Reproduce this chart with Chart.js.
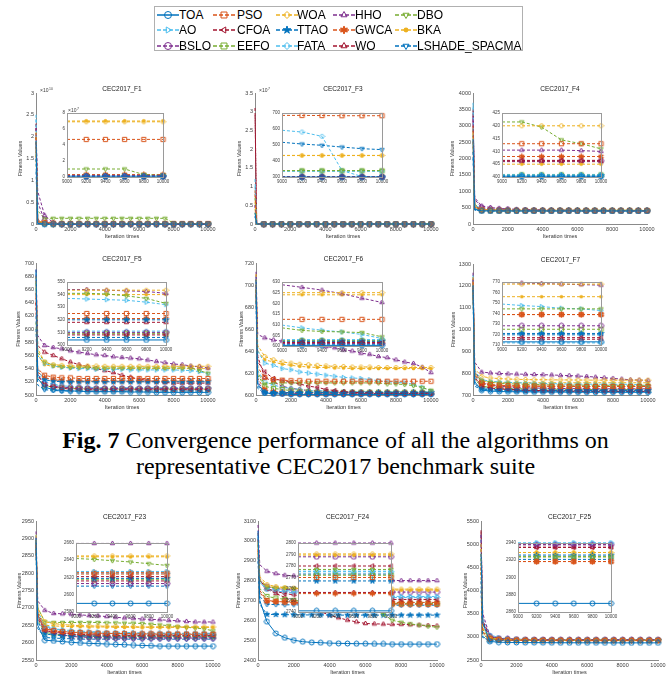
<!DOCTYPE html>
<html>
<head>
<meta charset="utf-8">
<script src="https://cdn.jsdelivr.net/npm/chart.js@4.4.1/dist/chart.umd.min.js"></script>
<style>
  body { margin: 0; width: 671px; height: 680px; background: #fff; position: relative; overflow: hidden; font-family: "Liberation Sans", Arial, sans-serif; }
  .pane { position: absolute; }
  #legend { position: absolute; left: 154px; top: 6px; width: 369px; height: 45px; border: 1px solid #b0b0b0; box-sizing: border-box; }
  #legend span { position: absolute; font-size: 12px; line-height: 12px; color: #000; white-space: nowrap; }
  #legend canvas { position: absolute; }
  .cap { position: absolute; left: 0; width: 671px; text-align: center; font-family: "Liberation Serif", "Times New Roman", serif; font-size: 24px; line-height: 24px; color: #000; }
</style>
</head>
<body>
<div id="legend"></div>
<div class="cap" style="top:428px"><b>Fig. 7</b> Convergence performance of all the algorithms on</div>
<div class="cap" style="top:454px">representative CEC2017 benchmark suite</div>
<script>
// algorithms, in legend order
const SERIES = ['TOA', 'PSO', 'WOA', 'HHO', 'DBO', 'AO', 'CFOA', 'TTAO', 'GWCA', 'BKA', 'BSLO', 'EEFO', 'FATA', 'WO', 'LSHADE_SPACMA'];
const COLORS = ['#0072BD', '#D95319', '#EDB120', '#7E2F8E', '#77AC30', '#4DBEEE', '#A2142F', '#0072BD', '#D95319', '#EDB120', '#7E2F8E', '#77AC30', '#4DBEEE', '#A2142F', '#0072BD'];
const MARKERS = ['o', 's', 'd', '^', 'v', '>', '<', 'p', 'h', '.', 'o', 's', 'd', '^', 'v'];

// iterations where values were read (main plots / zoomed insets)
const X_MAIN = [0, 100, 500, 1000, 1500, 2000, 2500, 3000, 3500, 4000, 4500, 5000, 5500, 6000, 6500, 7000, 7500, 8000, 8500, 9000, 9500, 10000];
const X_INSET = [9000, 9200, 9400, 9600, 9800, 10000];

// F1, values in units of 1e10 (inset: 1e7)
const F1_MAIN = [
  [1.9,0.01, 0,0,0,0,0, 0,0,0,0,0, 0,0,0,0,0, 0,0,0,0,0],
  [2.0,0.05, 0.03,0.02,0.01,0.01,0.01, 0.01,0.01,0.01,0.01,0.01, 0.01,0.01,0.01,0.01,0.01, 0.01,0.01,0.01,0.01,0.01],
  [2.1,0.08, 0.02,0.01,0.01,0.01,0.01, 0.01,0.01,0.01,0.01,0.01, 0.01,0.01,0.01,0.01,0.01, 0.01,0.01,0.01,0.01,0.01],
  [2.2,0.75, 0.2,0.03,0.01,0,0, 0,0,0,0,0, 0,0,0,0,0, 0,0,0,0,0],
  [2.0,0.3, 0.13,0.13,0.13,0.13,0.13, 0.13,0.13,0.13,0.13,0.13, 0.13,0.13,0.13,0.13,0.13, 0.02,0.01,0.001,0.001,0.001],
  [2.5,0.02, 0,0,0,0,0, 0,0,0,0,0, 0,0,0,0,0, 0,0,0,0,0],
  [2.3,0.1, 0.03,0.01,0,0,0, 0,0,0,0,0, 0,0,0,0,0, 0,0,0,0,0],
  [1.5,0.01, 0,0,0,0,0, 0,0,0,0,0, 0,0,0,0,0, 0,0,0,0,0],
  [1.8,0.05, 0.01,0,0,0,0, 0,0,0,0,0, 0,0,0,0,0, 0,0,0,0,0],
  [1.7,0.06, 0.02,0.01,0.01,0.01,0.01, 0.01,0.01,0.01,0.01,0.01, 0.01,0.01,0.01,0.01,0.01, 0.01,0.01,0.01,0.01,0.01],
  [2.0,0.5, 0.08,0.01,0,0,0, 0,0,0,0,0, 0,0,0,0,0, 0,0,0,0,0],
  [1.6,0.04, 0.01,0,0,0,0, 0,0,0,0,0, 0,0,0,0,0, 0,0,0,0,0],
  [2.4,0.03, 0,0,0,0,0, 0,0,0,0,0, 0,0,0,0,0, 0,0,0,0,0],
  [2.2,0.06, 0.01,0,0,0,0, 0,0,0,0,0, 0,0,0,0,0, 0,0,0,0,0],
  [1.2,0.02, 0,0,0,0,0, 0,0,0,0,0, 0,0,0,0,0, 0,0,0,0,0]
];
const F1_INSET = [
  [0.1,0.1,0.1,0.1,0.1,0.1], [4.7,4.7,4.7,4.7,4.7,4.7], [6.9,6.9,6.9,6.9,6.9,6.9], [0.2,0.2,0.2,0.2,0.2,0.2],
  [1.0,1.0,1.0,1.0,0.3,0.2], [0.15,0.15,0.15,0.15,0.15,0.15], [0.1,0.1,0.1,0.1,0.1,0.1], [0.05,0.05,0.05,0.05,0.05,0.05],
  [0.3,0.3,0.3,0.3,0.3,0.3], [7.0,7.0,7.0,7.0,7.0,7.0], [0.1,0.1,0.1,0.1,0.1,0.1], [0.2,0.2,0.2,0.2,0.2,0.2],
  [0.12,0.12,0.12,0.12,0.12,0.12], [0.1,0.1,0.1,0.1,0.1,0.1], [0.05,0.05,0.05,0.05,0.05,0.05]
];

// F3, main in units of 1e7
const F3_MAIN = [
  [0.3,0, 0,0,0,0,0, 0,0,0,0,0, 0,0,0,0,0, 0,0,0,0,0],
  [0.9,0, 0,0,0,0,0, 0,0,0,0,0, 0,0,0,0,0, 0,0,0,0,0],
  [0.6,0, 0,0,0,0,0, 0,0,0,0,0, 0,0,0,0,0, 0,0,0,0,0],
  [0.5,0, 0,0,0,0,0, 0,0,0,0,0, 0,0,0,0,0, 0,0,0,0,0],
  [0.7,0, 0,0,0,0,0, 0,0,0,0,0, 0,0,0,0,0, 0,0,0,0,0],
  [1.2,0, 0,0,0,0,0, 0,0,0,0,0, 0,0,0,0,0, 0,0,0,0,0],
  [3.1,0, 0,0,0,0,0, 0,0,0,0,0, 0,0,0,0,0, 0,0,0,0,0],
  [0.2,0, 0,0,0,0,0, 0,0,0,0,0, 0,0,0,0,0, 0,0,0,0,0],
  [0.8,0, 0,0,0,0,0, 0,0,0,0,0, 0,0,0,0,0, 0,0,0,0,0],
  [0.4,0, 0,0,0,0,0, 0,0,0,0,0, 0,0,0,0,0, 0,0,0,0,0],
  [0.5,0, 0,0,0,0,0, 0,0,0,0,0, 0,0,0,0,0, 0,0,0,0,0],
  [0.3,0, 0,0,0,0,0, 0,0,0,0,0, 0,0,0,0,0, 0,0,0,0,0],
  [1.0,0, 0,0,0,0,0, 0,0,0,0,0, 0,0,0,0,0, 0,0,0,0,0],
  [2.9,0, 0,0,0,0,0, 0,0,0,0,0, 0,0,0,0,0, 0,0,0,0,0],
  [0.2,0, 0,0,0,0,0, 0,0,0,0,0, 0,0,0,0,0, 0,0,0,0,0]
];
const F3_INSET = [
  [300,300,300,300,300,300], [685,685,684,683,683,683], [435,435,435,435,435,435], [301,301,301,301,301,301],
  [340,340,340,340,340,340], [336,336,336,336,336,336], [301.5,301.5,301.5,301.5,301.5,301.5], [300.5,300.5,300.5,300.5,300.5,300.5],
  [302,302,302,302,302,302], [434,434,434,434,434,434], [301,301,301,301,301,301], [338,338,338,338,338,338],
  [592,581,554,340,303,302], [300.8,300.8,300.8,300.8,300.8,300.8], [517,506,498,487,477,471]
];

const F4_MAIN = [
  [2600,450, 402,401,401,400.5,400.5, 400.5,400.5,400.5,400.5,400.5, 400.5,400.5,400.5,400.5,400.5, 400.5,400.5,400.5,400.5,400.5],
  [3000,500, 430,420,418,416,415, 414,414,413,413,413, 413,413,413,413,413, 413,413,413,413,413],
  [2800,520, 440,430,425,423,422, 421,421,420,420,420, 420,420,420,420,420, 420,420,420,420,420],
  [3200,800, 550,500,480,460,450, 440,435,430,428,425, 422,420,418,416,415, 414,413,412,411,410],
  [2900,600, 440,430,428,426,425, 424,423,423,422,422, 422,422,422,422,422, 421.5,421.5,421.5,415,411],
  [3700,480, 410,405,403,402,401, 401,401,401,401,401, 401,401,401,401,401, 401,401,401,401,401],
  [3500,520, 430,415,410,409,408, 408,407,407,407,407, 406.5,406.5,406.5,406.5,406.5, 406.5,406.5,406.5,406.5,406.5],
  [2200,430, 405,402,401,401,400.5, 400.5,400.5,400.5,400.5,400.5, 400.5,400.5,400.5,400.5,400.5, 400.5,400.5,400.5,400.5,400.5],
  [2500,470, 420,415,412,410,409, 409,408,408,408,408, 408,408,408,408,408, 408,408,408,408,408],
  [2400,460, 415,410,408,407,406, 406,405.5,405,405,405, 405,405,405,405,405, 405,405,405,405,405],
  [3300,750, 500,460,440,430,425, 420,416,413,411,409, 408,407.5,407,407,406.5, 406.5,406.3,406.3,406.3,406.3],
  [2700,480, 415,405,403,402,401, 401,401,401,401,401, 401,401,401,401,401, 401,401,401,401,401],
  [3600,600, 430,410,405,403,402, 401,401,401,401,401, 401,401,401,401,401, 401,401,401,401,401],
  [3400,550, 440,420,412,410,408, 407,406.5,406,406,406, 406,406,406,406,406, 406,406,406,406,406],
  [2000,420, 402,401,400.5,400.5,400.5, 400.5,400.5,400.5,400.5,400.5, 400.5,400.5,400.5,400.5,400.5, 400.5,400.5,400.5,400.5,400.5]
];
const F4_INSET = [
  [400.3,400.3,400.3,400.3,400.3,400.3], [413,413,413,413,413,413], [420,420,420,420,420,420], [410.5,410.5,410.5,410.5,410.3,410],
  [421.5,421.5,419.5,414.5,413,411], [400.8,400.8,400.8,400.8,400.8,400.8], [406.5,406.5,406.5,406.5,406.5,406.5], [400.5,400.5,400.5,400.5,400.5,400.5],
  [408,408,408,408,408,408], [405,405,405,405,405,405], [406.3,406.3,406.3,406.3,406.3,406.3], [400.8,400.8,400.8,400.8,400.8,400.8],
  [401,401,401,401,401,401], [406,406,406,406,406,406], [400.2,400.2,400.2,400.2,400.2,400.2]
];

const F5_MAIN = [
  [690,525, 512,508,507,506,506, 505,505,505,505,505, 504.5,504.5,504.5,504,504, 504,504,504,504,504],
  [650,540, 530,527,526,526,525, 525,525,525,525,525, 525,525,525,525,525, 525,525,525,525,525],
  [680,570, 550,546,545,544,544, 544,544,543.5,543.5,543.5, 543.5,543.5,543.5,543.5,543.5, 543.5,543.5,543.5,543.5,543.5],
  [690,590, 575,572,570,567,565, 563,561,560,558,557, 556,555,553,551,549, 547,546,544,543,541],
  [670,565, 550,545,543,542,542, 542,541,541,541,541, 541,541,541,541,541, 541,541,541,537,533],
  [685,560, 548,544,542,541,540, 540,539,539,539,539, 538,538,538,538,538, 538,537.5,537,535.5,532],
  [655,530, 515,512,510,509,509, 508,508,508,508,508, 508,508,508,508,508, 508,508,508,508,508],
  [620,530, 523,521,520,520,520, 520,520,520,520,520, 520,520,520,520,520, 520,520,520,520,520],
  [640,535, 526,523,522,521,521, 521,521,521,521,521, 521,521,521,521,521, 521,521,521,521,521],
  [675,560, 546,543,542,541,541, 541,540,540,540,540, 540,540,540,540,540, 540,540,540,540,540],
  [640,530, 516,513,512,511,511, 510,510,510,510,510, 510,510,510,510,510, 510,510,510,510,510],
  [610,525, 514,512,511,510,510, 509,509,509,509,509, 509,509,509,509,509, 509,509,509,509,509],
  [660,540, 520,516,514,513,512, 512,511,511,511,511, 511,511,511,511,511, 511,511,511,511,511],
  [680,575, 565,560,555,550,546, 543,540,537,534,530, 527,524,522,520,519, 518,518,518,518,518],
  [600,515, 508,507,506,506,506, 506,506,506,506,506, 506,506,506,506,506, 506,506,506,506,506]
];
const F5_INSET = [
  [504,504,504,504,504,504], [525,525,525,525,525,525], [543.5,543.5,543.5,543.5,543.5,543.5], [544,544,543.5,543,542.5,541],
  [541,541,540.5,539,537,533], [537,536.5,536,535.5,534,532], [508,508,508,508,508,508], [520,520,520,520,520,520],
  [521,521,521,521,521,521], [540,540,540,540,540,540], [510,510,510,510,510,510], [509,509,509,509,509,509],
  [511,511,511,511,511,511], [518,518,518,518,518,518], [506,506,506,506,506,506]
];

const F6_MAIN = [
  [705,610, 602,601,601,600.5,600.5, 600.5,600.5,600.5,600.5,600.5, 600.5,600.5,600.5,600.5,600.5, 600.5,600.5,600.5,600.5,600.5],
  [700,625, 616,614,613.5,613,613, 612.5,612.5,612.5,612.5,612.5, 612.5,612.5,612.5,612.5,612.5, 612.5,612.5,612.5,612.5,612.5],
  [710,645, 635,632,630,629,628, 627.5,627,626.5,626,626, 625.5,625.5,625.5,625,625, 625,625,625,625,625],
  [712,655, 652,650,649,648,647, 646,645,644,643,641, 640,638,637,635,634, 632,630,628.7,625.3,620.4],
  [695,620, 610,611,611,611,611, 611,611,611,611,611, 611,611,611,611,610, 610,609.5,608.5,606.7,604.3],
  [708,640, 629,627,624,623,621, 620,619,618,617,616, 615.5,615,614,613,612, 611.5,611,609.8,607,603.5],
  [706,630, 621,615,613,611.5,610, 608,607,605,604,603, 602.5,602,602,601.6,601.6, 601.6,601.6,601.6,601.6,601.6],
  [690,608, 602.5,602.2,602.2,602.2,602.2, 602.2,602.2,602.2,602.2,602.2, 602.2,602.2,602.2,602.2,602.2, 602.2,602.2,602.2,602.2,602.2],
  [698,615, 605,603,602.5,602,602, 602,602,602,602,602, 602,602,602,602,602, 602,602,602,602,602],
  [704,640, 632,630,628,627,626, 625.5,625,625,624.5,624.5, 624,624,624,624,624, 624,624,624,624,624],
  [692,612, 603,602,601.5,601.5,601.2, 601.2,601.2,601.2,601.2,601.2, 601.2,601.2,601.2,601.2,601.2, 601.2,601.2,601.2,601.2,601.2],
  [696,618, 608,606,605,604,603, 603,602.5,602.5,602.5,602.5, 602.5,602.5,602.5,602.5,602.5, 602.5,602.5,602.5,602.5,602.5],
  [700,622, 612,609,607,606,605, 604,604,603.5,603,603, 603,603,603,603,603, 603,603,603,603,603],
  [709,635, 616,612,608,606,605, 604,604,603,602,602, 601.5,601.4,601.4,601.4,601.4, 601.4,601.4,601.4,601.4,601.4],
  [685,606, 601.5,601,600.8,600.6,600.6, 600.6,600.6,600.6,600.6,600.6, 600.6,600.6,600.6,600.6,600.6, 600.6,600.6,600.6,600.6,600.6]
];
const F6_INSET = [
  [600.3,600.3,600.3,600.3,600.3,600.3], [612.5,612.5,612.5,612.5,612.5,612.5], [625,625,625,625,625,625], [628.7,627.5,626.2,624.5,622.4,620.4],
  [608.5,607.3,606.8,606.6,606.3,604.3], [609.8,608.5,607.4,606.6,605.4,603.5], [601.6,601.6,601.6,601.6,601.6,601.6], [602.2,602.2,602.2,602.2,602.2,602.2],
  [602,602,602,602,602,602], [624,624,624,624,624,624], [601.2,601.2,601.2,601.2,601.2,601.2], [602.5,602.5,602.5,602.5,602.5,602.5],
  [603,603,603,603,603,603], [601.4,601.4,601.4,601.4,601.4,601.4], [600.6,600.6,600.6,600.6,600.6,600.6]
];

const F7_MAIN = [
  [1200,760, 722,718,716,715,715, 714.5,714,714,714,713.5, 713.5,713,713,713,713, 713,713,713,713,713],
  [1220,790, 755,748,745,743,742, 741,741,740.5,740,740, 739.5,739.5,739,739,739, 739,739,739,739,739],
  [1240,820, 785,778,775,773,772, 771,770,770,769.5,769, 769,768.5,768.5,768,768, 768,768,768,768,768],
  [1260,850, 805,801,799,797,796, 795,794,793,792,790, 789,787,785,782,779, 776,773,769.5,768.5,767],
  [1210,800, 765,758,754,752,750, 749,748,747,746,746, 745,745,745,744.5,744.5, 744.4,744.4,744.4,744.4,744.4],
  [1250,810, 770,763,760,758,756, 755,754,753,752,751, 750,750,749.5,749.5,749, 749,749,749,746.6,742.8],
  [1230,780, 740,732,728,725,723, 722,721,720,719,718.5, 718,717.5,717,717,717, 717,717,717,717,717],
  [1180,750, 728,725,724,723,722.5, 722,722,721.5,721,721, 721,721,721,721,721, 721,721,721,721,721],
  [1190,775, 750,745,743,742,741, 740.5,740,740,739.5,739.5, 739,739,739,739,739, 739,739,739,739,739],
  [1200,790, 765,760,758,757,756.5, 756,756,756,756,756, 756,756,756,756,756, 756,756,756,756,756],
  [1220,800, 755,745,740,737,735, 733,732,731,730,730, 729.5,729,728.5,728.3,728.3, 728.3,728.3,728.3,728.3,728.3],
  [1170,770, 740,735,732,730,729, 728,727.5,727,726.5,726, 725.5,725,725,725,725, 725,725,725,725,725],
  [1240,790, 735,728,724,720,718, 717,716,715,714.5,714, 713.5,713,713,712.5,712.5, 712,712,712,712,712],
  [1230,810, 760,745,735,728,724, 720,718,716.5,716,715.5, 715.5,715.5,715.5,715.5,715.5, 715.5,715.5,715.5,715.5,715.5],
  [1150,740, 725,722,721,720.5,720, 720,719.7,719.7,719.7,719.7, 719.7,719.7,719.7,719.7,719.7, 719.7,719.7,719.7,719.7,719.7]
];
const F7_INSET = [
  [713,713,713,713,713,713], [739,739,739,739,739,739], [768,768,768,768,768,768], [769.5,769,768.5,768,767.5,767],
  [744.4,744.4,744.4,744.4,744.4,744.4], [749,747.6,746.6,745,744.4,742.8], [717,717,717,717,717,717], [721,721,721,721,721,721],
  [739,739,739,739,739,739], [756,756,756,756,756,756], [728.3,728.3,728.3,728.3,728.3,728.3], [725,725,725,725,725,725],
  [712,712,712,712,712,712], [715.5,715.5,715.5,715.5,715.5,715.5], [719.7,719.7,719.7,719.7,719.7,719.7]
];

const F23_MAIN = [
  [2900,2650, 2607,2605,2603,2601,2599, 2598,2597,2596,2595,2594, 2593,2592,2591,2590,2590, 2590,2590,2590,2590,2590],
  [2880,2680, 2640,2635,2632,2630,2629, 2628,2627,2627,2626,2626, 2625,2625,2625,2624,2624, 2624,2624,2624,2624,2624],
  [2910,2700, 2660,2655,2652,2650,2649, 2648,2648,2647,2647,2646, 2646,2645,2645,2645,2645, 2645,2645,2645,2645,2645],
  [2920,2720, 2693,2684,2683,2682,2680, 2678,2677,2675,2673,2671, 2670,2668,2667,2666,2664, 2663,2661,2659.5,2659.5,2659.5],
  [2890,2700, 2660,2658,2658,2658,2658, 2658,2658,2657,2657,2656, 2656,2655,2653,2651,2649, 2646,2644,2642,2639.5,2634],
  [2905,2680, 2645,2640,2637,2635,2633, 2632,2631,2630,2630,2629, 2629,2628,2628,2628,2627, 2627,2627,2627,2627,2627],
  [2895,2670, 2635,2630,2627,2625,2624, 2623,2622,2622,2621,2621, 2621,2621,2621,2621,2621, 2621,2621,2621,2621,2621],
  [2870,2660, 2625,2622,2620,2619,2619, 2619,2619,2619,2619,2619, 2619,2619,2619,2619,2619, 2619,2619,2619,2619,2619],
  [2885,2675, 2640,2634,2631,2629,2628, 2627,2627,2626,2626,2626, 2626,2626,2626,2626,2626, 2626,2626,2626,2626,2626],
  [2900,2690, 2650,2648,2647,2646,2646, 2645,2645,2645,2644,2644, 2644,2644,2644,2644,2644, 2644,2644,2644,2644,2644],
  [2890,2680, 2635,2628,2622,2618,2616, 2615,2614,2614,2613,2613, 2613,2613,2613,2613,2613, 2613,2613,2613,2613,2613],
  [2875,2665, 2630,2625,2622,2620,2619, 2618,2618,2618,2618,2618, 2618,2618,2618,2618,2618, 2618,2618,2618,2618,2618],
  [2910,2690, 2650,2640,2635,2632,2630, 2629,2628,2627,2626,2626, 2625,2625,2625,2625,2625, 2625,2625,2625,2625,2625],
  [2900,2685, 2645,2635,2628,2624,2621, 2619,2618,2617,2616,2616, 2616,2616,2616,2616,2616, 2616,2616,2616,2616,2616],
  [2860,2640, 2615,2613,2612,2611,2610, 2610,2610,2610,2610,2610, 2610,2610,2610,2610,2610, 2610,2610,2610,2610,2610]
];
const F23_INSET = [
  [2590,2590,2590,2590,2590,2590], [2624,2624,2624,2624,2624,2624], [2645,2645,2645,2645,2645,2645], [2659.5,2659.5,2659.5,2659.5,2659.5,2659.5],
  [2642,2641,2639.5,2638,2636,2634], [2627,2627,2627,2627,2627,2627], [2621,2621,2621,2621,2621,2621], [2619,2619,2619,2619,2619,2619],
  [2626,2626,2626,2626,2626,2626], [2644,2644,2644,2644,2644,2644], [2613,2613,2613,2613,2613,2613], [2618,2618,2618,2618,2618,2618],
  [2625,2625,2625,2625,2625,2625], [2616,2616,2616,2616,2616,2616], [2610,2610,2610,2610,2610,2610]
];

const F24_MAIN = [
  [3050,2700, 2593,2534,2512,2500,2492, 2489,2487,2485,2484,2483, 2482,2482,2481,2481,2480, 2480,2480,2480,2480,2480],
  [2950,2750, 2700,2695,2692,2690,2688, 2687,2686,2685,2684,2684, 2683,2683,2682,2682,2682, 2681,2681,2681,2680,2680],
  [3000,2820, 2780,2770,2765,2762,2760, 2759,2758,2758,2757,2757, 2757,2757,2757,2757,2757, 2757,2757,2757,2757,2757],
  [3080,2880, 2847,2835,2827,2824,2820, 2817,2815,2813,2811,2809, 2807,2805,2803,2802,2801, 2800,2800,2800,2800,2800],
  [2980,2800, 2768,2763,2763,2760,2760, 2760,2760,2760,2760,2758, 2755,2750,2700,2630,2600, 2590,2582,2576,2570,2565],
  [3020,2790, 2760,2755,2750,2745,2740, 2735,2732,2730,2728,2726, 2725,2724,2723,2722,2721, 2720,2720,2720,2720,2720],
  [3010,2800, 2760,2745,2735,2728,2722, 2718,2715,2712,2710,2709, 2708,2707,2706,2705,2705, 2705,2705,2705,2705,2705],
  [2900,2680, 2630,2629,2628,2628,2627, 2627,2627,2626,2626,2626, 2626,2626,2626,2626,2626, 2626,2626,2626,2626,2626],
  [2960,2740, 2695,2694,2693,2692,2692, 2691,2691,2691,2690,2690, 2690,2690,2690,2690,2690, 2690,2690,2690,2690,2690],
  [2990,2810, 2770,2765,2762,2760,2758, 2757,2756,2755,2755,2754, 2754,2753,2753,2753,2752, 2752,2752,2752,2752,2752],
  [3000,2800, 2770,2760,2755,2752,2750, 2748,2747,2746,2745,2744, 2744,2743,2743,2742,2742, 2742,2742,2742,2742,2742],
  [2940,2760, 2720,2712,2705,2700,2697, 2695,2693,2691,2690,2689, 2688,2687,2686,2686,2685, 2685,2685,2685,2685,2685],
  [3030,2790, 2755,2748,2742,2738,2734, 2730,2727,2724,2722,2720, 2719,2718,2717,2716,2715, 2715,2715,2715,2715,2715],
  [3040,2800, 2757,2735,2715,2693,2676, 2660,2643,2626,2613,2601, 2592,2584,2582,2581,2580, 2580,2578,2576,2574,2572],
  [2920,2720, 2680,2679,2678,2678,2677, 2677,2677,2676,2676,2676, 2676,2676,2676,2676,2676, 2676,2676,2676,2676,2676]
];
const F24_INSET = [
  [2741,2741,2741,2741,2741,2741], [2770,2770,2770,2770,2770,2770], [2790.5,2790.5,2790.5,2790.5,2790.5,2790.5], [2800,2800,2800,2800,2800,2800],
  [2777,2777,2777,2777,2777,2777], [2775.5,2775.5,2775.5,2775.5,2775.5,2775.5], [2780,2780,2780,2780,2780,2780], [2767,2767,2767,2767,2767,2767],
  [2756,2756,2756,2756,2756,2756], [2789.5,2789.5,2789.5,2789.5,2789.5,2789.5], [2788,2788,2788,2788,2788,2788], [2772,2772,2772,2772,2772,2772],
  [2775,2775,2775,2775,2775,2775], [2757,2757,2757,2757,2757,2757], [2773,2773,2773,2773,2773,2773]
];

const F25_MAIN = [
  [4800,3300, 2900,2885,2880,2878,2876, 2875,2874,2873,2872,2872, 2871,2871,2871,2870,2870, 2870,2870,2870,2870,2870],
  [4500,3100, 2960,2940,2930,2925,2922, 2920,2919,2919,2918.5,2918.5, 2918.5,2918.5,2918.5,2918.5,2918.5, 2918.5,2918.5,2918.5,2918.5,2918.5],
  [5000,3200, 2990,2950,2940,2935,2932, 2931,2930,2930,2929,2929, 2929,2929,2929,2929,2929, 2929,2929,2929,2929,2929],
  [5200,3500, 3020,2960,2950,2945,2942, 2941,2940,2939,2938,2938, 2938,2938,2938,2938,2938, 2938,2938,2938,2938,2938],
  [4700,3150, 2980,2950,2940,2935,2930, 2928,2926,2925,2924,2924, 2924,2924,2924,2924,2924, 2924,2924,2924,2924,2924],
  [5100,3400, 3050,2980,2960,2950,2945, 2943,2942,2941,2940,2940, 2940,2940,2940,2940,2940, 2940,2940,2940,2940,2940],
  [5300,3300, 3000,2960,2950,2945,2940, 2938,2937,2936,2935,2935, 2935,2935,2935,2935,2935, 2935,2935,2935,2935,2935],
  [4200,3000, 2930,2928,2927,2926,2926, 2926,2926,2926,2926,2926, 2926,2926,2926,2926,2926, 2926,2926,2926,2926,2926],
  [4600,3100, 2950,2935,2928,2925,2922, 2921,2920,2920,2919,2918.5, 2918.5,2918.5,2918.5,2918.5,2918.5, 2918.5,2918.5,2918.5,2918.5,2918.5],
  [4900,3150, 2970,2945,2938,2934,2932, 2931,2930,2930,2929,2929, 2929,2929,2929,2929,2929, 2929,2929,2929,2929,2929],
  [5000,3300, 3010,2970,2955,2948,2944, 2942,2940,2939,2938,2938, 2938,2938,2938,2938,2938, 2938,2938,2938,2938,2938],
  [4400,3050, 2950,2935,2930,2928,2926, 2925,2924,2924,2924,2924, 2924,2924,2924,2924,2924, 2924,2924,2924,2924,2924],
  [5200,3250, 3000,2965,2952,2946,2943, 2942,2941,2940,2940,2940, 2940,2940,2940,2940,2940, 2940,2940,2940,2940,2940],
  [5250,3350, 3020,2970,2955,2945,2940, 2938,2936,2935,2935,2935, 2935,2935,2935,2935,2935, 2935,2935,2935,2935,2935],
  [4000,2980, 2925,2922,2921,2921,2921, 2921,2921,2921,2921,2921, 2921,2921,2921,2921,2921, 2921,2921,2921,2921,2921]
];
const F25_INSET = [
  [2870,2870,2870,2870,2870,2870], [2918.5,2918.5,2918.5,2918.5,2918.5,2918.5], [2929,2929,2929,2929,2929,2929], [2938,2938,2938,2938,2938,2938],
  [2924,2924,2924,2924,2924,2924], [2940,2940,2940,2940,2940,2940], [2935,2935,2935,2935,2935,2935], [2926,2926,2926,2926,2926,2926],
  [2918.5,2918.5,2918.5,2918.5,2918.5,2918.5], [2929,2929,2929,2929,2929,2929], [2938,2938,2938,2938,2938,2938], [2924,2924,2924,2924,2924,2924],
  [2940,2940,2940,2940,2940,2940], [2935,2935,2935,2935,2935,2935], [2921,2921,2921,2921,2921,2921]
];

// page layout of each panel: plot box [left, top, right, bottom], inset box, axis ranges [min, max, step]
const PANELS = [
  { title: 'CEC2017_F1', main: F1_MAIN, inset: F1_INSET, box: [36, 93, 208, 224], ins: [67, 113, 163, 177], y: [0, 3, 0.5], iy: [0, 8, 2], exp: '10', iexp: '7', yt: 16 },
  { title: 'CEC2017_F3', main: F3_MAIN, inset: F3_INSET, box: [255, 93, 431, 224], ins: [282, 113, 382, 177], y: [0, 3.5, 0.5], iy: [300, 700, 100], exp: '7', yt: 16 },
  { title: 'CEC2017_F4', main: F4_MAIN, inset: F4_INSET, box: [473, 93, 647, 224], ins: [502, 113, 601, 177], y: [0, 4000, 500], iy: [400, 425, 5], yt: 21 },
  { title: 'CEC2017_F5', main: F5_MAIN, inset: F5_INSET, box: [36, 263, 208, 395], ins: [67, 282, 166, 345], y: [500, 700, 20], iy: [500, 550, 10], yt: 18 },
  { title: 'CEC2017_F6', main: F6_MAIN, inset: F6_INSET, box: [256, 263, 431, 395], ins: [282, 282, 382, 346], y: [600, 720, 20], iy: [600, 630, 5], yt: 15 },
  { title: 'CEC2017_F7', main: F7_MAIN, inset: F7_INSET, box: [473, 264, 648, 395], ins: [502, 282, 601, 345], y: [700, 1300, 100], iy: [710, 770, 10], yt: 20 },
  { title: 'CEC2017_F23', main: F23_MAIN, inset: F23_INSET, box: [36, 521, 213, 660], ins: [76, 543, 167, 612], y: [2550, 2950, 50], iy: [2580, 2660, 20], yt: 17 },
  { title: 'CEC2017_F24', main: F24_MAIN, inset: F24_INSET, box: [258, 521, 437, 660], ins: [298, 543, 391, 612], y: [2400, 3100, 100], iy: [2740, 2800, 10], yt: 20 },
  { title: 'CEC2017_F25', main: F25_MAIN, inset: F25_INSET, box: [481, 521, 658, 660], ins: [518, 543, 611, 612], y: [2500, 5500, 500], iy: [2860, 2940, 20], yt: 16 }
];

const FONT = '"Liberation Sans", Arial, sans-serif';
const TICK = '#404040';

function drawMarker(ctx, shape, x, y, r, color) {
  ctx.strokeStyle = color;
  ctx.fillStyle = color;
  ctx.lineWidth = 1;
  ctx.setLineDash([]);
  ctx.beginPath();
  if (shape === 'o') {
    ctx.arc(x, y, r, 0, Math.PI * 2);
  } else if (shape === '.') {
    ctx.arc(x, y, r * 0.7, 0, Math.PI * 2);
    ctx.fill();
    return;
  } else if (shape === 's') {
    ctx.rect(x - r * 0.85, y - r * 0.85, r * 1.7, r * 1.7);
  } else if (shape === 'd') {
    ctx.moveTo(x, y - r); ctx.lineTo(x + r, y); ctx.lineTo(x, y + r); ctx.lineTo(x - r, y); ctx.closePath();
  } else if ('^v<>'.includes(shape)) {
    const a0 = { '^': -90, 'v': 90, '>': 0, '<': 180 }[shape] * Math.PI / 180;
    for (let k = 0; k < 3; k++) {
      const t = a0 + k * 2 * Math.PI / 3;
      ctx.lineTo(x + r * Math.cos(t), y + r * Math.sin(t));
    }
    ctx.closePath();
  } else {
    // pentagram / hexagram
    const n = shape === 'p' ? 5 : 6, inner = shape === 'p' ? 0.42 : 0.5;
    for (let k = 0; k < 2 * n; k++) {
      const rr = k % 2 ? r * inner : r * 1.15;
      const t = -Math.PI / 2 + k * Math.PI / n;
      ctx.lineTo(x + rr * Math.cos(t), y + rr * Math.sin(t));
    }
    ctx.closePath();
    ctx.fill();
  }
  ctx.stroke();
}

function markerImage(k, size, r) {
  const c = document.createElement('canvas');
  c.width = size; c.height = size;
  drawMarker(c.getContext('2d'), MARKERS[k], size / 2, size / 2, r, COLORS[k]);
  return c;
}
const MARK_IMG = SERIES.map((s, k) => markerImage(k, 7, 2.5));

// legend
const legend = document.getElementById('legend');
const SYM_X = [157, 213, 276, 333, 395], TXT_X = [179, 237, 297, 355, 417], ROW_Y = [15, 30, 46];
SERIES.forEach((name, k) => {
  const row = Math.floor(k / 5), col = k % 5;
  const c = document.createElement('canvas');
  c.width = 22; c.height = 12;
  c.style.left = (SYM_X[col] - 155) + 'px';
  c.style.top = (ROW_Y[row] - 6 - 7) + 'px';
  const ctx = c.getContext('2d');
  ctx.strokeStyle = COLORS[k];
  ctx.lineWidth = 1.5;
  ctx.setLineDash(k === 0 ? [] : [4, 2]);
  ctx.beginPath(); ctx.moveTo(0, 6); ctx.lineTo(22, 6); ctx.stroke();
  drawMarker(ctx, MARKERS[k], 11, 6, 3.5, COLORS[k]);
  legend.appendChild(c);
  const sp = document.createElement('span');
  sp.textContent = name;
  sp.style.left = (TXT_X[col] - 155) + 'px';
  sp.style.top = (ROW_Y[row] - 6 - 7) + 'px';
  legend.appendChild(sp);
});

function expLabel(ctx, x, y, e) {
  ctx.save();
  ctx.fillStyle = TICK;
  ctx.textAlign = 'left';
  ctx.textBaseline = 'alphabetic';
  ctx.font = '5px ' + FONT;
  ctx.fillText('\u00d710', x, y);
  const w = ctx.measureText('\u00d710').width;
  ctx.font = '3.5px ' + FONT;
  ctx.fillText(e, x + w + 0.5, y - 2.5);
  ctx.restore();
}

const mainDeco = {
  id: 'mainDeco',
  afterDraw(chart) {
    const p = chart.$panel, a = chart.chartArea, ctx = chart.ctx;
    ctx.save();
    ctx.fillStyle = '#1a1a1a';
    ctx.font = '6.5px ' + FONT;
    ctx.textAlign = 'center';
    ctx.textBaseline = 'alphabetic';
    ctx.fillText(p.title, (a.left + a.right) / 2, a.top - 2);
    ctx.fillStyle = '#333';
    ctx.font = '5.5px ' + FONT;
    ctx.textBaseline = 'middle';
    ctx.fillText('Iteration times', (a.left + a.right) / 2, a.bottom + 12);
    ctx.translate(a.left - p.yt, (a.top + a.bottom) / 2);
    ctx.rotate(-Math.PI / 2);
    ctx.fillText('Fitness Values', 0, 0);
    ctx.restore();
    if (p.exp) expLabel(ctx, a.left + 4, a.top - 1, p.exp);
  }
};

const insetDeco = {
  id: 'insetDeco',
  beforeDatasetsDraw(chart) {
    const a = chart.chartArea, ctx = chart.ctx;
    ctx.save();
    ctx.fillStyle = '#fff';
    ctx.fillRect(a.left, a.top, a.right - a.left, a.bottom - a.top);
    ctx.restore();
  },
  afterDraw(chart) {
    const a = chart.chartArea, ctx = chart.ctx, p = chart.$panel;
    ctx.save();
    ctx.strokeStyle = '#9a9a9a';
    ctx.lineWidth = 1;
    ctx.strokeRect(Math.round(a.left) + 0.5, Math.round(a.top) + 0.5, Math.round(a.right - a.left), Math.round(a.bottom - a.top));
    ctx.restore();
    if (p.iexp) expLabel(ctx, a.left + 1, a.top - 1, p.iexp);
  }
};

function addCanvas(left, top, w, h) {
  const d = document.createElement('div');
  d.className = 'pane';
  d.style.left = left + 'px'; d.style.top = top + 'px';
  d.style.width = w + 'px'; d.style.height = h + 'px';
  const c = document.createElement('canvas');
  c.width = w; c.height = h;
  c.style.width = w + 'px'; c.style.height = h + 'px';
  d.appendChild(c);
  document.body.appendChild(d);
  return c;
}

function datasets(xs, rows, firstMarker) {
  return SERIES.map((name, k) => {
    if (rows[k].length !== xs.length) throw new Error('bad row ' + name);
    return {
      label: name,
      data: xs.map((x, i) => ({ x: x, y: rows[k][i] })),
      borderColor: COLORS[k],
      backgroundColor: COLORS[k],
      borderWidth: 1,
      borderDash: k === 0 ? [] : [3, 2],
      pointStyle: MARK_IMG[k],
      pointRadius: ctx => (ctx.dataIndex >= firstMarker ? 3 : 0),
      tension: 0,
      fill: false,
      clip: 4
    };
  });
}

function axes(xmin, xmax, xstep, yr, tickSize, yw, xh, border) {
  return {
    x: {
      type: 'linear', min: xmin, max: xmax,
      grid: { display: false, drawTicks: false, tickLength: 0 },
      border: { display: true, color: border, width: 1 },
      ticks: { stepSize: xstep, autoSkip: false, maxRotation: 0, padding: 2, color: TICK, font: { size: tickSize, family: FONT }, callback: v => String(v) },
      afterFit: s => { s.height = xh; }
    },
    y: {
      min: yr[0], max: yr[1],
      grid: { display: false, drawTicks: false, tickLength: 0 },
      border: { display: true, color: border, width: 1 },
      ticks: { stepSize: yr[2], autoSkip: false, padding: 2, color: TICK, font: { size: tickSize, family: FONT }, callback: v => String(v) },
      afterFit: s => { s.width = yw; }
    }
  };
}

PANELS.forEach(p => {
  const [L, T, R, B] = p.box;
  const YW = 40, XH = 22, PT = 14, PR = 14;
  const cv = addCanvas(L - YW, T - PT, R - L + YW + PR, B - T + PT + XH);
  new Chart(cv, {
    type: 'line',
    data: { datasets: datasets(X_MAIN, p.main, 2) },
    options: {
      animation: false, responsive: false, events: [],
      layout: { padding: { left: 0, top: PT, right: PR, bottom: 0 } },
      plugins: { legend: { display: false }, tooltip: { enabled: false } },
      scales: axes(0, 10000, 2000, p.y, 5.5, YW, XH, '#8a8a8a')
    },
    plugins: [{ id: 'bind', beforeInit(c) { c.$panel = p; } }, mainDeco]
  });

  const [iL, iT, iR, iB] = p.ins;
  const IYW = 20, IXH = 10, IPT = 8, IPR = 10;
  const icv = addCanvas(iL - IYW, iT - IPT, iR - iL + IYW + IPR, iB - iT + IPT + IXH);
  new Chart(icv, {
    type: 'line',
    data: { datasets: datasets(X_INSET, p.inset, 1) },
    options: {
      animation: false, responsive: false, events: [],
      layout: { padding: { left: 0, top: IPT, right: IPR, bottom: 0 } },
      plugins: { legend: { display: false }, tooltip: { enabled: false } },
      scales: axes(9000, 10000, 200, p.iy, 4.5, IYW, IXH, '#9a9a9a')
    },
    plugins: [{ id: 'bind', beforeInit(c) { c.$panel = p; } }, insetDeco]
  });
});
</script>
</body>
</html>
